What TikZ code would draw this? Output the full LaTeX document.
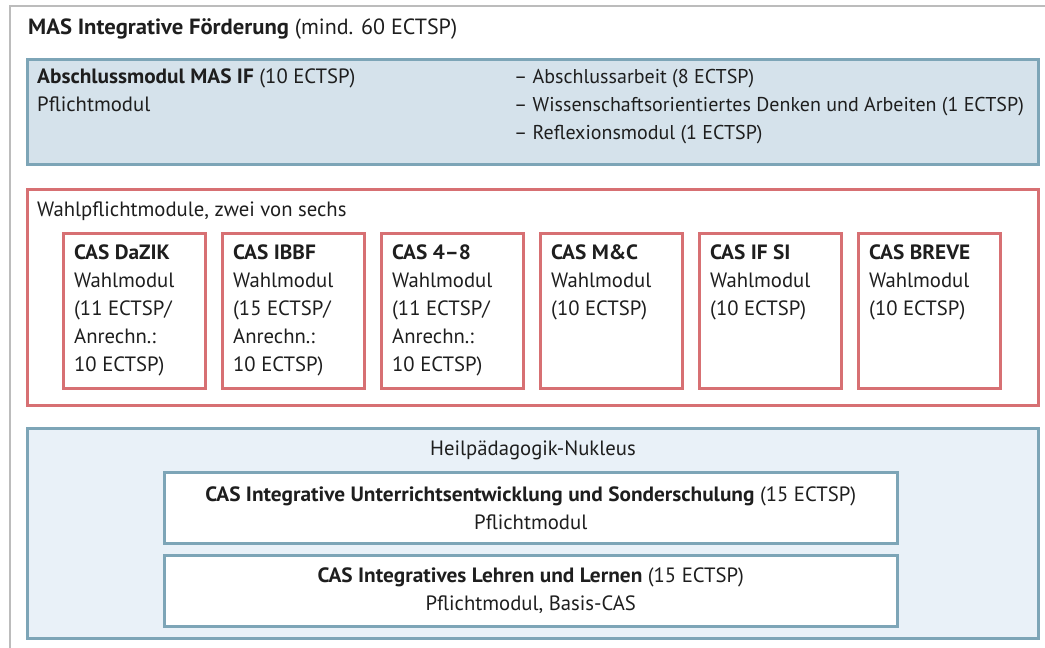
\documentclass[tikz,border=0pt]{standalone}
\usepackage{fontspec}
\setmainfont{PT Sans}[BoldFeatures={FakeStretch=1.03}]
\definecolor{framegray}{RGB}{188,188,188}
\definecolor{boxblue}{RGB}{125,165,183}
\definecolor{fillblue}{RGB}{213,226,235}
\definecolor{paleblue}{RGB}{233,241,248}
\definecolor{boxred}{RGB}{215,112,115}
\definecolor{txtcol}{RGB}{30,30,30}
\begin{document}
\begin{tikzpicture}[x=1pt, y=-1pt, every node/.style={font=\fontsize{20.7}{28}\selectfont, text=txtcol}]
\tikzstyle{tx}=[draw=none, fill=none, inner sep=0pt, align=left, anchor=north west]
\tikzstyle{bluebox}=[draw=boxblue, line width=2.5pt, fill=fillblue, inner sep=0pt, anchor=north west]
\tikzstyle{redbox}=[draw=boxred, line width=2.5pt, fill=white, inner sep=0pt, anchor=north west]
\tikzstyle{casbox}=[redbox, minimum width=142pt, minimum height=155pt]
\tikzstyle{nukbox}=[draw=boxblue, line width=2.5pt, fill=white, inner sep=0pt, anchor=north west, align=center, minimum width=733pt, minimum height=71pt]
\useasboundingbox (0,0) rectangle (1045,648);
\fill[white] (0,0) rectangle (1045,648);
\draw[draw=framegray, line width=2.5pt] (10,648) -- (10,6) -- (1045,6);

\node[tx, font=\fontsize{22}{28}\selectfont] (title) at (28,15) {\strut\textbf{MAS Integrative Förderung} (mind. 60 ECTSP)};

% Abschlussmodul
\node[bluebox, minimum width=1011pt, minimum height=105pt] (abschluss) at (26,58) {};
\node[tx] (abschlusstx) at (37,64) {\strut\textbf{Abschlussmodul MAS IF} (10 ECTSP)\\Pflichtmodul};
\node[tx, font=\fontsize{20}{28}\selectfont] (abschlussliste) at (514,64) {\strut– Abschlussarbeit (8 ECTSP)\\– Wissenschaftsorientiertes Denken und Arbeiten (1 ECTSP)\\– Reflexionsmodul (1 ECTSP)};

% Wahlpflichtmodule
\node[redbox, minimum width=1011pt, minimum height=216pt] (wahl) at (26,188) {};
\node[tx] (wahltx) at (37,197) {\strut Wahlpflichtmodule, zwei von sechs};
\foreach \i/\name/\info in {0/{CAS DaZIK}/{(11 ECTSP/\\Anrechn.:\\10 ECTSP)},
  1/{CAS IBBF}/{(15 ECTSP/\\Anrechn.:\\10 ECTSP)},
  2/{CAS 4–8}/{(11 ECTSP/\\Anrechn.:\\10 ECTSP)},
  3/{CAS M\&C}/{(10 ECTSP)},
  4/{CAS IF SI}/{(10 ECTSP)},
  5/{CAS BREVE}/{(10 ECTSP)}}{
  \node[casbox] (cas\i) at (62+159*\i,232) {};
  \node[tx] (castx\i) at (74+159*\i,240) {\strut\textbf{\name}\\Wahlmodul\\\info};
}

% Heilpaedagogik-Nukleus
\node[bluebox, fill=paleblue, minimum width=1011pt, minimum height=210pt] (nukleus) at (26,427) {};
\node[tx, anchor=base] (nukleustx) at (533,455) {Heilpädagogik-Nukleus};
\node[nukbox] (iu) at (163,471) {\textbf{CAS Integrative Unterrichtsentwicklung und Sonderschulung} (15 ECTSP)\\Pflichtmodul};
\node[nukbox] (il) at (163,554) {\textbf{CAS Integratives Lehren und Lernen} (15 ECTSP)\\Pflichtmodul, Basis-CAS};
\end{tikzpicture}
\end{document}
